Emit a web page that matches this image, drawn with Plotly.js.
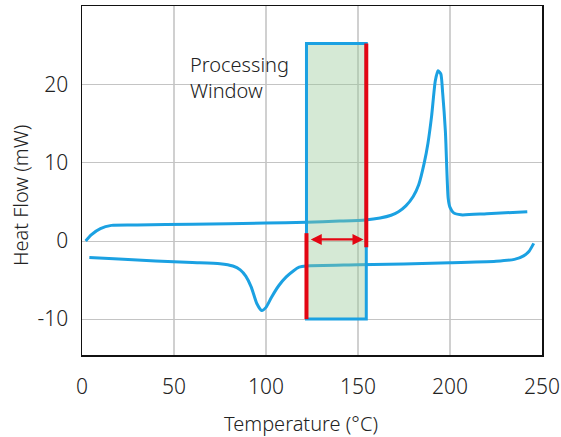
<!DOCTYPE html>
<html>
<head>
<meta charset="utf-8">
<script src="https://cdn.plot.ly/plotly-3.0.1.min.js"></script>
<style>html,body{margin:0;padding:0;background:#fff;}#chart{width:561px;height:437px;}</style>
</head>
<body>
<div id="chart"></div>
<script>
// Heating curve (upper, with melting peak)
const heatTemp = [2, 5, 10, 16, 30, 60, 100, 122, 140, 154, 162, 168, 172, 176, 180, 183, 186, 188, 190, 192, 193.5, 195, 196, 197.5, 199, 200, 202, 206, 220, 242];
const heatFlow = [0, 0.8, 1.6, 2.0, 2.05, 2.15, 2.3, 2.4, 2.55, 2.7, 2.95, 3.3, 3.75, 4.5, 5.7, 7.2, 10, 12.5, 16, 20.5, 21.8, 21.4, 19, 14, 5.5, 4.3, 3.6, 3.35, 3.5, 3.75];
// Cooling curve (lower, with crystallisation dip)
const coolTemp = [4, 20, 40, 60, 75, 82, 86, 89, 92, 95, 97.7, 100, 103, 107, 111, 115, 118, 122, 150, 200, 225, 235, 240, 243, 245.5];
const coolFlow = [-2.1, -2.3, -2.55, -2.75, -2.9, -3.2, -3.7, -4.5, -5.9, -8.0, -8.9, -8.5, -7.2, -5.7, -4.6, -3.8, -3.35, -3.2, -3.05, -2.8, -2.6, -2.35, -1.9, -1.3, -0.3];
// Processing window
const windowTemp = [122, 154.5];
const windowFlow = [-10, 25.3];
const leftMarkerFlow = [-10, 1.0];
const rightMarkerFlow = [-0.8, 25.3];
const arrowFlow = 0.2;
const xTicks = [0, 50, 100, 150, 200, 250];
const yTicks = [-10, 0, 10, 20];
const windowLabel = "Processing<br>Window";
const xTitle = 'Temperature (°C)';
const yTitle = 'Heat Flow (mW)';

const lineColor = '#1ba1e2';
const red = '#e30613';
const fontFam = '"Noto Sans", "Open Sans", sans-serif';
const txt = {family: fontFam, size: 20, color: '#222', weight: 300};

const traces = [
  {x: heatTemp, y: heatFlow, mode: 'lines', line: {color: lineColor, width: 3, shape: 'spline', smoothing: 0.6}, hoverinfo: 'skip'},
  {x: coolTemp, y: coolFlow, mode: 'lines', line: {color: lineColor, width: 3, shape: 'spline', smoothing: 0.6}, hoverinfo: 'skip'}
];

const shapes = [
  {type: 'rect', xref: 'x', yref: 'y', x0: windowTemp[0], x1: windowTemp[1], y0: windowFlow[0], y1: windowFlow[1],
   fillcolor: 'rgba(150,200,150,0.4)', line: {color: lineColor, width: 3}, layer: 'above'},
  {type: 'line', xref: 'x', yref: 'y', x0: windowTemp[0], x1: windowTemp[0], y0: leftMarkerFlow[0], y1: leftMarkerFlow[1],
   line: {color: red, width: 4}, layer: 'above'},
  {type: 'line', xref: 'x', yref: 'y', x0: windowTemp[1], x1: windowTemp[1], y0: rightMarkerFlow[0], y1: rightMarkerFlow[1],
   line: {color: red, width: 4}, layer: 'above'}
];

const annotations = [
  {x: windowTemp[1] - 1.5, y: arrowFlow, ax: windowTemp[0] + 1.5, ay: arrowFlow, xref: 'x', yref: 'y', axref: 'x', ayref: 'y',
   text: '', showarrow: true, arrowhead: 2, arrowside: 'end+start', arrowsize: 1, arrowwidth: 2.2, arrowcolor: red},
  {x: 57.6, y: 24.6, xref: 'x', yref: 'y', xanchor: 'left', yanchor: 'top', align: 'left', showarrow: false,
   text: windowLabel, font: txt},
  {x: 0.476, y: -0.195, xref: 'paper', yref: 'paper', xanchor: 'center', yanchor: 'middle', showarrow: false,
   text: xTitle, font: txt},
  {x: -0.135, y: 0.458, xref: 'paper', yref: 'paper', xanchor: 'center', yanchor: 'middle', showarrow: false,
   textangle: -90, text: yTitle, font: txt}
];

const layout = {
  width: 561, height: 437,
  margin: {l: 82, r: 19, t: 6, b: 82},
  paper_bgcolor: '#fff', plot_bgcolor: '#fff',
  showlegend: false,
  font: {family: fontFam, color: '#222'},
  xaxis: {range: [0, 250], tickvals: xTicks, ticktext: xTicks.map(String), showgrid: true, gridcolor: '#d0d0d0', gridwidth: 1.5,
          zeroline: false, showline: true, linecolor: '#111', linewidth: 1.5, mirror: true, ticks: '',
          tickfont: {size: 21, color: '#222', weight: 300}, ticklabelstandoff: 12, automargin: false},
  yaxis: {range: [-14.6, 30.1], tickvals: yTicks, ticktext: yTicks.map(String), showgrid: true, gridcolor: '#c4c4c4', gridwidth: 1,
          zeroline: false, showline: true, linecolor: '#111', linewidth: 1.5, mirror: true, ticks: '',
          tickfont: {size: 21, color: '#222', weight: 300}, ticklabelstandoff: 8, automargin: false},
  shapes: shapes,
  annotations: annotations
};

Plotly.newPlot('chart', traces, layout, {staticPlot: true, displayModeBar: false});
</script>
</body>
</html>
